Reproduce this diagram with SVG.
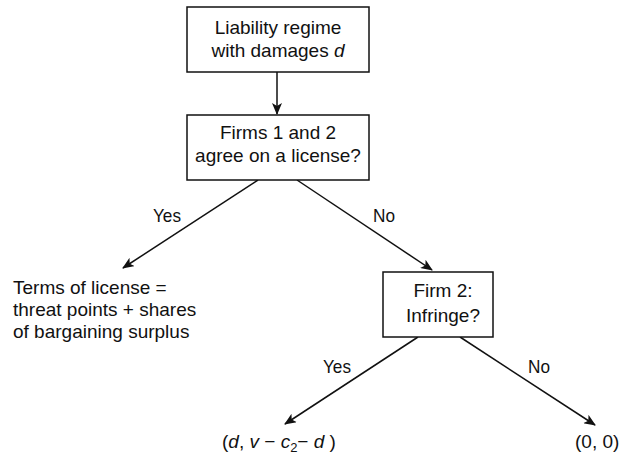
<svg xmlns="http://www.w3.org/2000/svg" width="620" height="455" viewBox="0 0 620 455">
<style>
.box{fill:#fff;stroke:#111;stroke-width:1.5}
.t{font-family:"Liberation Sans",Arial,sans-serif;font-size:19px;fill:#111}
.l{font-family:"Liberation Sans",Arial,sans-serif;font-size:18.5px;fill:#111}
.m{text-anchor:middle}
.ln{stroke:#111;stroke-width:1.5;fill:none;marker-end:url(#ah)}
</style>
<defs>
<marker id="ah" viewBox="0 0 12 10" refX="11" refY="5" markerWidth="12" markerHeight="10" markerUnits="userSpaceOnUse" orient="auto">
<path d="M0,0 L12,5 L0,10 L3,5 Z" fill="#111"/>
</marker>
</defs>
<rect width="620" height="455" fill="#fff"/>
<g id="connectors">
<line class="ln" x1="277" y1="72" x2="277" y2="114"/>
<line class="ln" x1="258" y1="180" x2="123" y2="268"/>
<line class="ln" x1="297" y1="180" x2="432" y2="270"/>
<line class="ln" x1="418" y1="337" x2="285" y2="424"/>
<line class="ln" x1="460" y1="337" x2="595" y2="425"/>
<text class="l" x="153" y="222" textLength="28" lengthAdjust="spacingAndGlyphs">Yes</text>
<text class="l" x="373" y="222" textLength="22" lengthAdjust="spacingAndGlyphs">No</text>
<text class="l" x="323" y="373" textLength="28" lengthAdjust="spacingAndGlyphs">Yes</text>
<text class="l" x="528" y="373" textLength="22" lengthAdjust="spacingAndGlyphs">No</text>
</g>
<g id="n1">
<rect class="box" x="187" y="7" width="182" height="65"/>
<text class="t m" x="278" y="34">Liability regime</text>
<text class="t m" x="278" y="57">with damages <tspan font-style="italic">d</tspan></text>
</g>
<g id="n2">
<rect class="box" x="187" y="115" width="182" height="65"/>
<text class="t m" x="278" y="139">Firms 1 and 2</text>
<text class="t m" x="278" y="162">agree on a license?</text>
</g>
<g id="n3">
<text class="t" x="13" y="294">Terms of license =</text>
<text class="t" x="13" y="316">threat points + shares</text>
<text class="t" x="13" y="338">of bargaining surplus</text>
</g>
<g id="n4">
<rect class="box" x="383" y="272" width="110" height="65"/>
<text class="t m" x="443" y="297">Firm 2:</text>
<text class="t m" x="443" y="322">Infringe?</text>
</g>
<g id="n5">
<text class="t" x="222" y="448">(<tspan font-style="italic">d</tspan>, <tspan font-style="italic">v</tspan> − <tspan font-style="italic">c</tspan><tspan font-size="13" dy="4">2</tspan><tspan dy="-4">− </tspan><tspan font-style="italic">d</tspan> )</text>
</g>
<g id="n6">
<text class="t" x="575" y="448">(0, 0)</text>
</g>
</svg>
